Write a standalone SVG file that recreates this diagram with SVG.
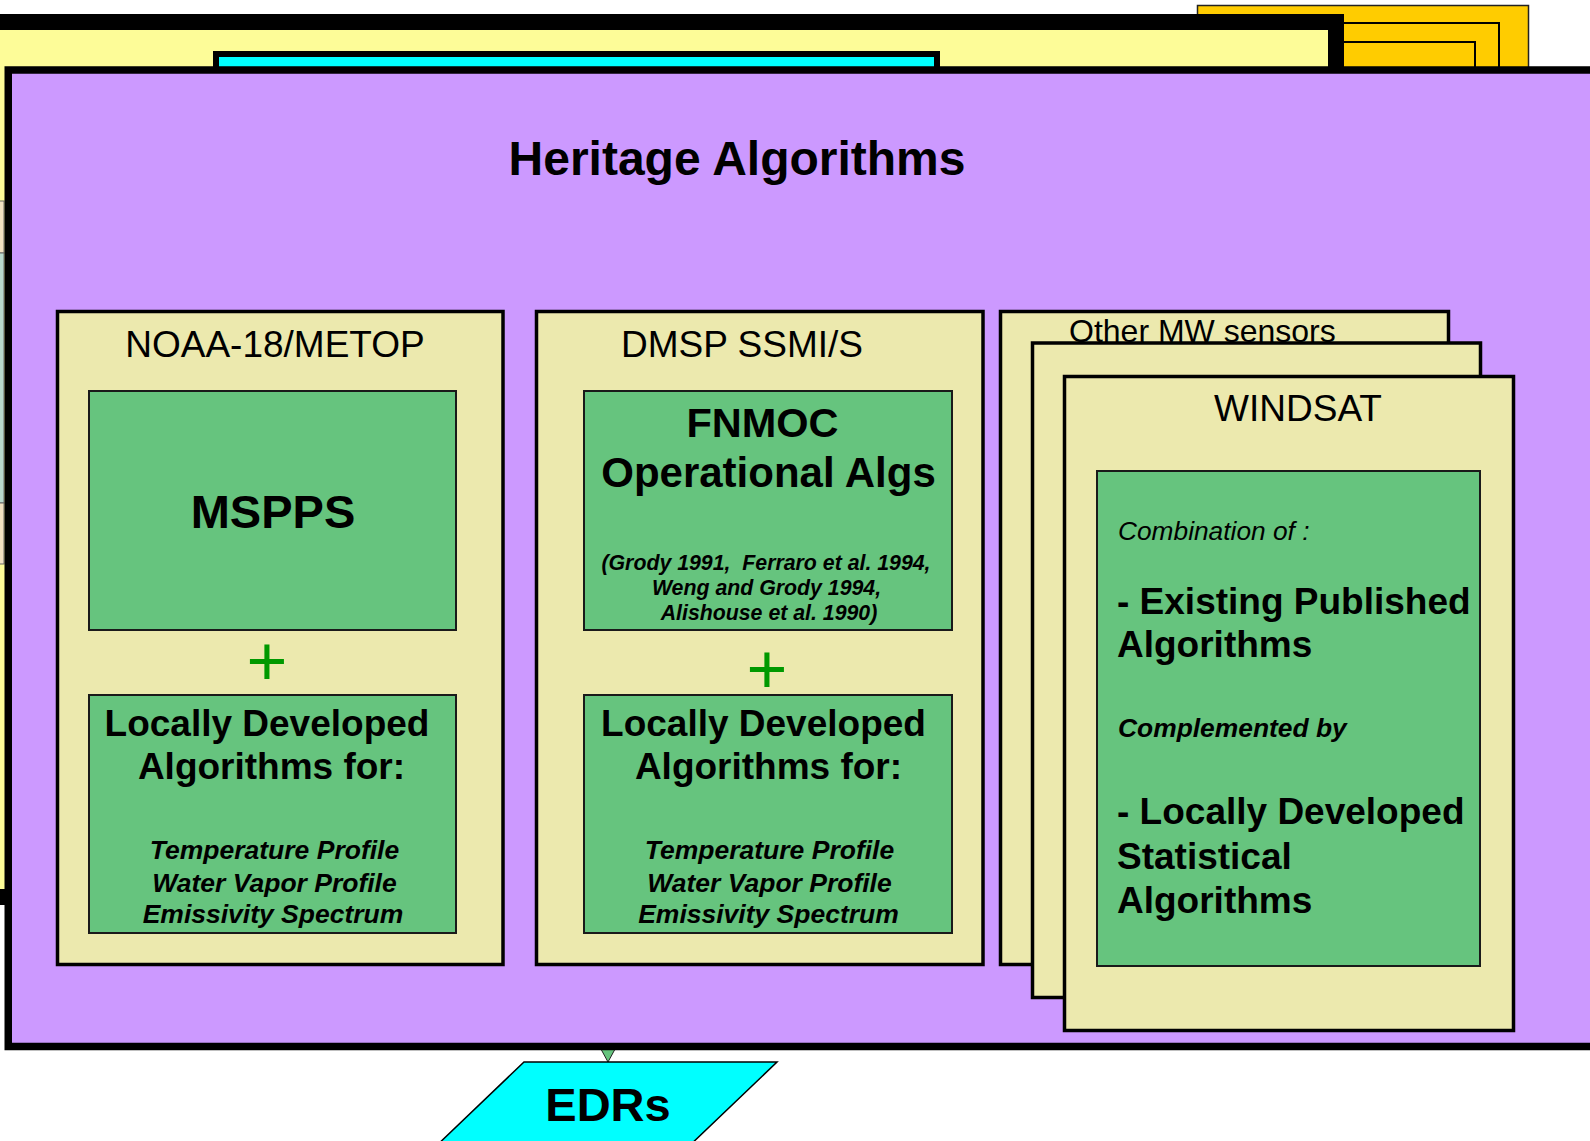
<svg xmlns="http://www.w3.org/2000/svg" width="1590" height="1141" viewBox="0 0 1590 1141">
<style>
text{font-family:"Liberation Sans",Arial,sans-serif;fill:#000}
.b{font-weight:bold}
.i{font-style:italic}
.c{text-anchor:middle}
.panel{fill:#ECE9AE;stroke:#000;stroke-width:3.5}
.grn{fill:#66C47E;stroke:#1a1a1a;stroke-width:2}
.plus{fill:#009900;font-size:70px}
</style>
<g id="background">
<g id="gold-stack">
<rect x="1197.5" y="5.5" width="331" height="80" fill="#FFCC00" stroke="#222" stroke-width="1.5"/>
<rect x="1300" y="23" width="199" height="80" fill="#FFCC00" stroke="#000" stroke-width="2"/>
<rect x="1300" y="42" width="175" height="80" fill="#FFCC00" stroke="#000" stroke-width="2"/>
</g>
<g id="yellow-panel">
<rect x="-20" y="22" width="1356" height="875" fill="#FDFC98" stroke="#000" stroke-width="16"/>
<rect x="-30" y="201" width="34" height="52" fill="#F0E0C0" stroke="#666" stroke-width="1"/>
<rect x="-30" y="253" width="34" height="250" fill="#B8D8CC" stroke="#666" stroke-width="1"/>
<rect x="-30" y="503" width="34" height="61" fill="#F0E0C0" stroke="#666" stroke-width="1"/>
</g>
<g id="cyan-panel">
<rect x="216" y="54" width="721" height="100" fill="#00FFFF" stroke="#000" stroke-width="6"/>
</g>
</g>
<g id="connectors">
<polygon points="596,1040 620,1040 608,1062" fill="#66C47E" stroke="#222" stroke-width="1"/>
</g>
<g id="heritage">
<rect x="8.25" y="70" width="1600" height="976.5" fill="#CC99FF" stroke="#000" stroke-width="7.5"/>
<text class="b c" x="737" y="175" font-size="48">Heritage Algorithms</text>
</g>
<g id="noaa">
<rect class="panel" x="57.5" y="311.5" width="445.5" height="653"/>
<text class="c" x="275" y="357" font-size="37">NOAA-18/METOP</text>
</g>
<g id="mspps">
<rect class="grn" x="89" y="391" width="367" height="239"/>
<text class="b c" x="273" y="528" font-size="47">MSPPS</text>
</g>
<g id="plus1"><text class="c plus" x="267" y="685">+</text></g>
<g id="local1">
<rect class="grn" x="89" y="695" width="367" height="238"/>
<text class="b c" x="267" y="736" font-size="37">Locally Developed</text>
<text class="b c" x="271.5" y="779" font-size="37">Algorithms for:</text>
<text class="b i c" x="274.5" y="859" font-size="26.5">Temperature Profile</text>
<text class="b i c" x="274.5" y="892" font-size="26.5">Water Vapor Profile</text>
<text class="b i c" x="273" y="923" font-size="26.5">Emissivity Spectrum</text>
</g>
<g id="dmsp">
<rect class="panel" x="536.5" y="311.5" width="446.5" height="653"/>
<text class="c" x="742" y="357" font-size="37">DMSP SSMI/S</text>
</g>
<g id="fnmoc">
<rect class="grn" x="584" y="391" width="368" height="239"/>
<text class="b c" x="762.5" y="437" font-size="41.5">FNMOC</text>
<text class="b c" x="768.5" y="487" font-size="42">Operational Algs</text>
<text class="b i c" x="766" y="570" font-size="21.3" xml:space="preserve">(Grody 1991,  Ferraro et al. 1994,</text>
<text class="b i c" x="766.5" y="595" font-size="21.3">Weng and Grody 1994,</text>
<text class="b i c" x="769" y="620" font-size="21.3">Alishouse et al. 1990)</text>
</g>
<g id="plus2"><text class="c plus" x="767" y="693">+</text></g>
<g id="local2">
<rect class="grn" x="584" y="695" width="368" height="238"/>
<text class="b c" x="763.5" y="736" font-size="37">Locally Developed</text>
<text class="b c" x="768.5" y="779" font-size="37">Algorithms for:</text>
<text class="b i c" x="769.5" y="859" font-size="26.5">Temperature Profile</text>
<text class="b i c" x="769.5" y="892" font-size="26.5">Water Vapor Profile</text>
<text class="b i c" x="768.5" y="923" font-size="26.5">Emissivity Spectrum</text>
</g>
<g id="other-mw">
<rect class="panel" x="1000.5" y="311.5" width="448" height="653"/>
<text x="1069" y="341.5" font-size="32">Other MW sensors</text>
<rect class="panel" x="1032.5" y="343" width="448" height="654.5"/>
</g>
<g id="windsat">
<rect class="panel" x="1064.5" y="376.5" width="449" height="654"/>
<text class="c" x="1298" y="421" font-size="37">WINDSAT</text>
<rect class="grn" x="1097" y="471" width="383" height="495"/>
<text class="i" x="1118" y="540" font-size="26.3">Combination of :</text>
<text class="b" x="1117" y="614" font-size="37">- Existing Published</text>
<text class="b" x="1117" y="657" font-size="37">Algorithms</text>
<text class="b i" x="1118" y="737" font-size="26.4">Complemented by</text>
<text class="b" x="1117" y="824" font-size="37">- Locally Developed</text>
<text class="b" x="1117" y="869" font-size="37">Statistical</text>
<text class="b" x="1117" y="913" font-size="37">Algorithms</text>
</g>
<g id="edrs">
<polygon points="524,1062 777,1062 685,1150 432,1150" fill="#00FFFF" stroke="#000" stroke-width="1.5"/>
<text class="b c" x="608" y="1121" font-size="47">EDRs</text>
</g>
</svg>
